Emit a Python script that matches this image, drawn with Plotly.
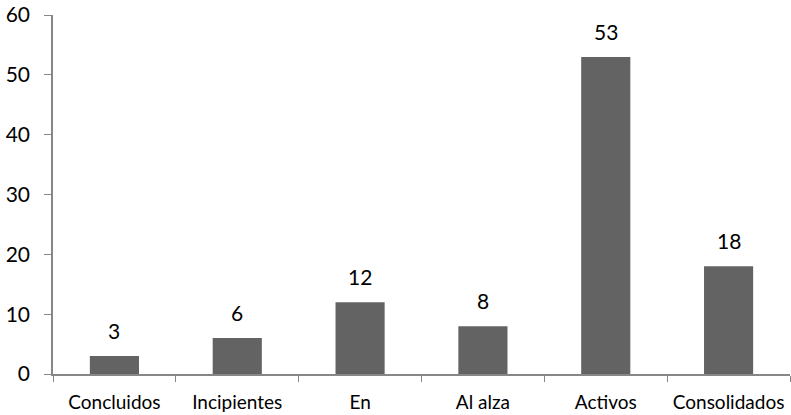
import plotly.graph_objects as go

categories = ["Concluidos", "Incipientes", "En", "Al alza", "Activos", "Consolidados"]
values = [3, 6, 12, 8, 53, 18]
y_ticks = [0, 10, 20, 30, 40, 50, 60]

font_family = "Lato, Open Sans, sans-serif"

fig = go.Figure()
fig.add_trace(go.Bar(
    x=categories, y=values,
    marker=dict(color="#636363", line=dict(width=0)),
    width=0.4,
    hoverinfo="skip",
))

for c, v in zip(categories, values):
    fig.add_annotation(
        x=c, y=v, text=str(v), showarrow=False,
        yanchor="bottom", yshift=11,
        font=dict(family=font_family, size=21, color="#000000"),
    )

fig.update_layout(
    width=791, height=415,
    margin=dict(l=53, r=1, t=15, b=41, autoexpand=False),
    paper_bgcolor="white", plot_bgcolor="white",
    showlegend=False,
    font=dict(family=font_family, size=19, color="#000000"),
)
fig.update_xaxes(
    automargin=False, tickangle=0,
    showline=True, linecolor="#878787", linewidth=1.5,
    ticks="outside", tickson="boundaries", ticklen=6, tickcolor="#878787",
    showgrid=False, zeroline=False,
    ticklabelstandoff=10,
    tickfont=dict(family=font_family, size=19),
)
fig.update_yaxes(
    automargin=False,
    range=[0, 60], tickvals=y_ticks,
    showline=True, linecolor="#878787", linewidth=1.5,
    ticks="outside", ticklen=7, tickcolor="#878787",
    showgrid=False, zeroline=False,
    ticklabelstandoff=10,
    tickfont=dict(family=font_family, size=21),
)

fig.write_html(
    "out.html",
    config={"displayModeBar": False},
    post_script="document.body.style.margin='0';document.body.style.overflow='hidden';",
)
